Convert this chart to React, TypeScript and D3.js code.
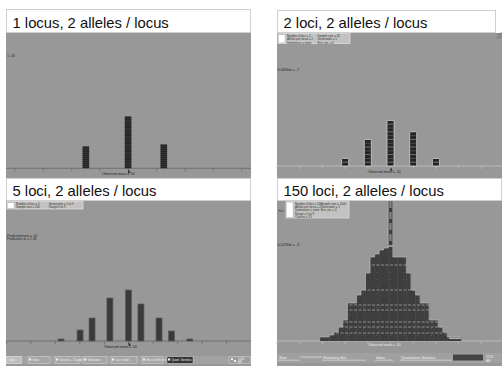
import React from "react";
import * as d3 from "d3";

// ---- data -------------------------------------------------------------
const panelTitles = [
  "1 locus, 2 alleles / locus",
  "2 loci, 2 alleles / locus",
  "5 loci, 2 alleles / locus",
  "150 loci, 2 alleles / locus",
];

const axisTicks = [0, 1, 2, 3, 4, 5, 6, 7, 8, 9];

// 1 locus: phenotype class position, number of individuals
const oneLocusClasses = [2.5, 3.99, 5.25];
const oneLocusCounts = [22, 52, 24];

// 2 loci: one stacked block per individual
const twoLociClasses = [3, 4, 5, 6, 7];
const twoLociCounts = [2, 7, 12, 9, 2];

// 5 loci
const fiveLociClasses = [2.23, 3.01, 3.5, 4.23, 4.99, 5.5, 6.24, 6.75, 7.5];
const fiveLociCounts = [2, 11, 23, 43, 51, 37, 23, 10, 2];

// 150 loci: narrow classes
const manyLociClasses = [
  2.0, 2.2, 2.4, 2.6, 2.8, 3.0, 3.2, 3.4, 3.6, 3.8, 4.0, 4.2, 4.4, 4.6, 4.8,
  5.0, 5.2, 5.4, 5.6, 5.8, 6.0, 6.2, 6.4, 6.6, 6.8, 7.0, 7.2, 7.4, 7.6, 7.8, 8.0,
];
const manyLociCounts = [
  4, 4, 6, 9, 14, 21, 38, 38, 46, 51, 68, 84, 87, 91, 93,
  150, 84, 84, 84, 68, 51, 46, 38, 38, 21, 21, 14, 9, 4, 4, 4,
];
const manyLociRowLevels = [8, 14, 19, 31, 36, 51, 76];

const observedMeanLabel = "Observed mean = .50";

// ---- styling ------------------------------------------------------------
const FONT = "Arial, 'Liberation Sans', Helvetica, sans-serif";
const BG = "#989898";

function TitleBox({ x, y, w, h, text }: any) {
  return (
    <g>
      <rect x={x + 0.5} y={y + 0.5} width={w - 1} height={h - 1} fill="#fff" stroke="#cfcfcf" />
      <text x={x + 6.5} y={y + h - 5.2} fontSize={14.8} fontFamily={FONT} fill="#111">
        {text}
      </text>
    </g>
  );
}

function Axis({ x, y, x0, x1, color }: any) {
  const [d0, d1] = x.domain();
  return (
    <g>
      <line x1={x0} x2={x1} y1={y} y2={y} stroke={color} strokeWidth={0.9} />
      {axisTicks.filter((t) => t >= d0 && t <= d1).map((t) => (
        <line key={t} x1={x(t)} x2={x(t)} y1={y} y2={y + 3} stroke={color} strokeWidth={0.8} />
      ))}
    </g>
  );
}

function MeanMarker({ x, y, labelX }: any) {
  return (
    <g>
      <text x={labelX} y={y + 6.5} fontSize={3.4} fontFamily={FONT} fill="#222">
        {observedMeanLabel}
      </text>
      <path d={`M${x},${y + 1} l0,4.5 l1.2,-1.2 l1.3,1.2 z`} fill="#111" />
    </g>
  );
}

function Legend({ x, y, w, h, rows }: any) {
  return (
    <g>
      <rect x={x} y={y} width={w} height={h} fill="#c2c2c2" stroke="#e2e2e2" strokeWidth={0.7} />
      <rect x={x + 0.8} y={y + 1.5} width={6} height={h - 2.5} fill="#fff" />
      {rows.map((r: string[], i: number) => (
        <g key={i}>
          <text x={x + 9} y={y + 3.5 + i * 3.4} fontSize={2.9} fontFamily={FONT} fill="#333">
            {r[0]}
          </text>
          <text x={x + w * 0.55} y={y + 3.5 + i * 3.4} fontSize={2.9} fontFamily={FONT} fill="#333">
            {r[1]}
          </text>
        </g>
      ))}
    </g>
  );
}

// ---- panel 1 ------------------------------------------------------------
function PanelOne() {
  const axisY = 168.3;
  const x = d3.scaleLinear().domain([0, 8]).range([15, 241.7]);
  const y = d3.scaleLinear().domain([0, 135]).range([axisY, axisY - 135]);
  const bw = 6.7;
  return (
    <g>
      <rect x={6} y={33} width={245} height={145} fill={BG} />
      <text x={7} y={57} fontSize={3.6} fontFamily={FONT} fill="#333">1 .46</text>
      <Axis x={x} y={axisY} x0={6} x1={251} color="#6c6c6c" />
      {oneLocusClasses.map((c, i) => (
        <rect key={i} x={x(c) - bw / 2} y={y(oneLocusCounts[i])} width={bw}
          height={axisY - y(oneLocusCounts[i])} fill="url(#scan)" />
      ))}
      <MeanMarker x={x(4)} y={axisY} labelX={102} />
      <TitleBox x={6} y={9} w={245} h={24} text={panelTitles[0]} />
    </g>
  );
}

// ---- panel 2 ------------------------------------------------------------
function PanelTwo() {
  const axisY = 166;
  const x = d3.scaleLinear().domain([0, 9]).range([277, 481.3]);
  const blockH = 3.8;
  const y = d3.scaleLinear().domain([0, 30]).range([axisY, axisY - 30 * blockH]);
  const bw = 7;
  return (
    <g>
      <rect x={277} y={33} width={225} height={145} fill={BG} />
      <Legend x={278} y={33.5} w={72} h={10}
        rows={[["Number of loci = 2", "Sample size = 32"], ["Alleles per locus = 2", "Generation = 1"], ["Dominance = none", "Env. var. = 0"]]} />
      <text x={277.5} y={71} fontSize={4} fontFamily={FONT} fill="#2a2a2a">0.06Std = .7</text>
      <Axis x={x} y={axisY} x0={277} x1={502} color="#bdbdbd" />
      {twoLociClasses.map((c, i) => (
        <g key={i}>
          <rect x={x(c) - bw / 2} y={y(twoLociCounts[i])} width={bw}
            height={axisY - y(twoLociCounts[i])} rx={1} fill="#242424" stroke="#d2d2d2" strokeWidth={0.8} />
          {d3.range(1, twoLociCounts[i]).map((k) => (
            <line key={k} x1={x(c) - bw / 2 + 0.8} x2={x(c) + bw / 2 - 0.8} y1={y(k)} y2={y(k)}
              stroke={k % 2 ? "#a8a8a8" : "#6a6a6a"} strokeWidth={0.6} />
          ))}
        </g>
      ))}
      <MeanMarker x={x(5)} y={axisY} labelX={368} />
      <TitleBox x={277} y={10} w={219} h={23} text={panelTitles[1]} />
      <text x={497} y={35} fontSize={2.6} fontFamily={FONT} fill="#555">n=32</text>
      <text x={497} y={38} fontSize={2.6} fontFamily={FONT} fill="#555">g=1</text>
    </g>
  );
}

// ---- taskbars --------------------------------------------------------------
function TaskbarLeft() {
  const btns = [[28, 50, "Inbox"], [55, 80, "Genetics - Chapter"], [83, 107, "Simulation"], [111, 137, "Loci model"], [142, 163, "Microsoft Excel"], [167, 193, "Quant. Genetics"]];
  return (
    <g>
      <rect x={6} y={356} width={245} height={8} fill="#a2a2a2" />
      <rect x={6.5} y={356.5} width={15} height={7} fill="#bdbdbd" stroke="#e6e6e6" strokeWidth={0.6} />
      <text x={9} y={361.3} fontSize={3} fontFamily={FONT} fill="#f2f2f2">Start</text>
      {btns.map((b: any, i) => (
        <g key={i}>
          <rect x={b[0]} y={356.6} width={b[1] - b[0]} height={6.8}
            fill={i === btns.length - 1 ? "#333" : "#a6a6a6"} stroke="#d8d8d8" strokeWidth={0.5} />
          <rect x={b[0] + 1} y={358.4} width={2.2} height={2.2} fill="#eee" />
          <text x={b[0] + 4.5} y={361.2} fontSize={2.8} fontFamily={FONT} fill="#eee">{b[2]}</text>
        </g>
      ))}
      <rect x={229} y={356.6} width={21} height={6.8} fill="#9d9d9d" stroke="#cfcfcf" strokeWidth={0.5} />
      <text x={238} y={359.6} fontSize={2.6} fontFamily={FONT} fill="#f0f0f0">10:42</text>
      <text x={238} y={362.6} fontSize={2.6} fontFamily={FONT} fill="#f0f0f0">AM</text>
      <rect x={231} y={358} width={2} height={2} fill="#eee" />
      <rect x={234} y={360} width={2} height={2} fill="#eee" />
    </g>
  );
}

function TaskbarRight() {
  const items = [[278, 300, "Start"], [322, 366, "Stationary dist."], [375, 393, "Inbox"], [400, 452, "Quantitative Genetics"]];
  return (
    <g>
      <rect x={277} y={353} width={225} height={10} fill="#a0a0a0" />
      {items.map((b: any, i) => (
        <g key={i}>
          <text x={b[0] + 1} y={358.6} fontSize={3.6} fontFamily={FONT} fill="#f4f4f4">{b[2]}</text>
          <line x1={b[0]} x2={b[1]} y1={360.2} y2={360.2} stroke="#e8e8e8" strokeWidth={0.6} />
        </g>
      ))}
      <line x1={300} x2={322} y1={357} y2={357} stroke="#e4e4e4" strokeWidth={0.7} />
      <rect x={453} y={354.5} width={30} height={6} fill="#444" />
      <text x={486} y={357.6} fontSize={3} fontFamily={FONT} fill="#f0f0f0">10:51</text>
      <text x={486} y={361.6} fontSize={3} fontFamily={FONT} fill="#f0f0f0">AM</text>
    </g>
  );
}

// ---- panel 3 ------------------------------------------------------------
function PanelThree() {
  const axisY = 341;
  const x = d3.scaleLinear().domain([0, 9]).range([6.5, 226.5]);
  const y = d3.scaleLinear().domain([0, 130]).range([axisY, axisY - 130]);
  const bw = 6;
  return (
    <g>
      <rect x={6} y={201} width={245} height={165} fill={BG} />
      <Legend x={7} y={201.5} w={76} h={7.5}
        rows={[["Number of loci = 5", "Generation = 1 to 5"], ["Sample size = 200", "Range 0 to 9"]]} />
      <text x={7} y={237} fontSize={3.2} fontFamily={FONT} fill="#222">Predicted mean = .50</text>
      <text x={7} y={240} fontSize={3.2} fontFamily={FONT} fill="#222">Predicted s.d. = 1.58</text>
      <Axis x={x} y={axisY} x0={6} x1={251} color="#6c6c6c" />
      {fiveLociClasses.map((c, i) => (
        <rect key={i} x={x(c) - bw / 2} y={y(fiveLociCounts[i])} width={bw}
          height={axisY - y(fiveLociCounts[i])} fill="#3a3a3a" stroke="#5c5c5c" strokeWidth={0.7} />
      ))}
      <MeanMarker x={x(5)} y={axisY} labelX={104} />
      <TaskbarLeft />
      <TitleBox x={6} y={178} w={245} h={23} text={panelTitles[2]} />
    </g>
  );
}

// ---- panel 4 ------------------------------------------------------------
function PanelFour() {
  const axisY = 341;
  const x = d3.scaleLinear().domain([0, 9]).range([277, 481.3]);
  const y = d3.scaleLinear().domain([0, 140]).range([axisY, axisY - 140]);
  const half = 0.1;
  const outline = d3.line<number>()
    .x((d, i) => x(manyLociClasses[Math.floor(i / 2)] + (i % 2 === 0 ? -half : half)))
    .y((d) => y(d));
  const pts: number[] = [];
  manyLociCounts.forEach((v) => { pts.push(v, v); });
  return (
    <g>
      <rect x={277} y={201} width={225} height={165} fill={BG} />
      <defs>
        <clipPath id="manyBars">
          {manyLociClasses.map((c, i) => (
            <rect key={i} x={x(c - half)} y={y(manyLociCounts[i])} width={x(c + half) - x(c - half) + 0.3}
              height={axisY - y(manyLociCounts[i])} />
          ))}
        </clipPath>
        <clipPath id="plotFour"><rect x={277} y={201} width={225} height={165} /></clipPath>
      </defs>
      <text x={277.5} y={246} fontSize={4} fontFamily={FONT} fill="#2a2a2a">0.02Std = .3</text>
      <Axis x={x} y={axisY} x0={277} x1={502} color="#bdbdbd" />
      <g clipPath="url(#plotFour)">
        {manyLociClasses.map((c, i) => (
          <rect key={i} x={x(c - half)} y={y(manyLociCounts[i])} width={x(c + half) - x(c - half) + 0.3}
            height={axisY - y(manyLociCounts[i])} fill="#3e3e3e" />
        ))}
        <g clipPath="url(#manyBars)">
          {manyLociRowLevels.map((lv) => (
            <line key={lv} x1={300} x2={480} y1={y(lv)} y2={y(lv)} stroke="#b0b0b0"
              strokeWidth={0.7} strokeDasharray="3 1.5" />
          ))}
          {manyLociClasses.filter((c, i) => i % 3 === 0).map((c) => (
            <line key={c} x1={x(c)} x2={x(c)} y1={y(90)} y2={axisY}
              stroke="#707070" strokeWidth={0.6} strokeDasharray="1 6" />
          ))}
          <line x1={x(5)} x2={x(5)} y1={y(100)} y2={y(150)} stroke="#8a8a8a" strokeWidth={2} strokeDasharray="7 4" />
          <line x1={x(4.9)} x2={x(5.1)} y1={y(95)} y2={y(95)} stroke="#eee" strokeWidth={1} />
        </g>
        <path d={outline(pts) || ""} fill="none" stroke="#c4c4c4" strokeWidth={0.6} />
      </g>
      <line x1={449} x2={461} y1={338.2} y2={338.2} stroke="#e6e6e6" strokeWidth={1} />
      <Legend x={286} y={201} w={63} h={17}
        rows={[["Number of loci = 150", "Sample size = 1000"], ["Alleles per locus = 2", "Generation = 1"], ["Dominance = none", "Env. var. = 0"], ["Range = 0 to 9", ""], ["Classes = 31", ""]]} />
      <text x={278.5} y={212} fontSize={2.8} fontFamily={FONT} fill="#444">Run</text>
      <text x={368} y={346} fontSize={3.4} fontFamily={FONT} fill="#e8e8e8">{observedMeanLabel}</text>
      <TaskbarRight />
      <TitleBox x={277} y={178} w={225} h={23} text={panelTitles[3]} />
    </g>
  );
}

export default function App() {
  return (
    <svg width={502} height={366} viewBox="0 0 502 366"
      style={{ position: "absolute", left: 0, top: 0, background: "#fff" }}>
      <defs>
        <pattern id="scan" width={4} height={2} patternUnits="userSpaceOnUse">
          <rect width={4} height={2} fill="#232323" />
          <rect width={4} height={0.7} fill="#3d3d3d" />
        </pattern>
      </defs>
      <rect width={502} height={366} fill="#fff" />
      <PanelOne />
      <PanelTwo />
      <PanelThree />
      <PanelFour />
    </svg>
  );
}
